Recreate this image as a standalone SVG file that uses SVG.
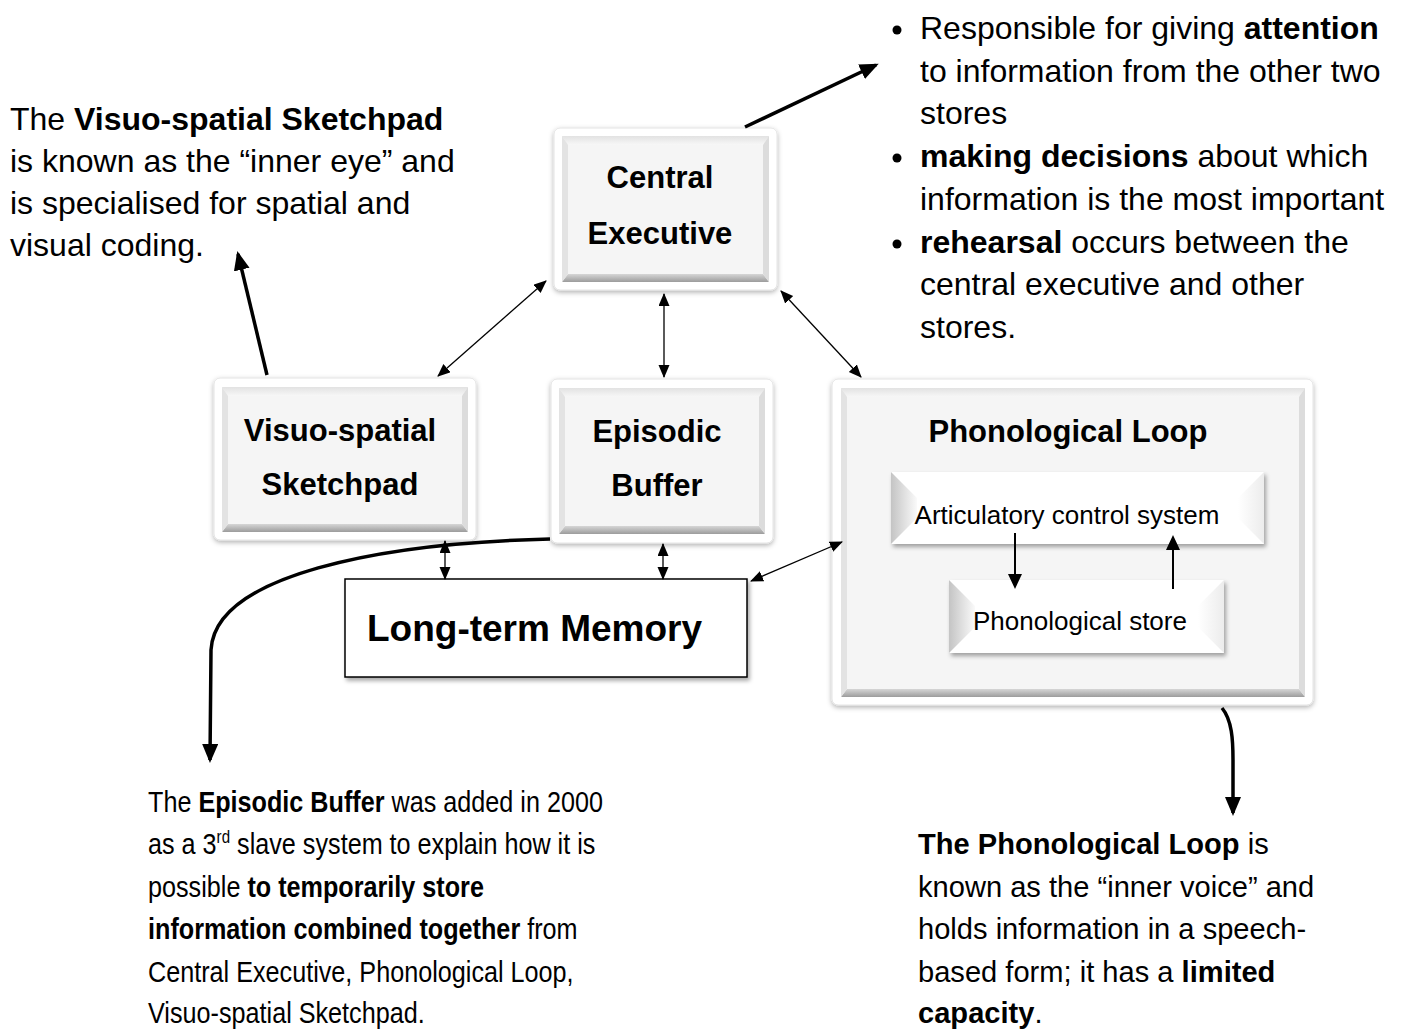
<svg xmlns="http://www.w3.org/2000/svg" width="1402" height="1032" viewBox="0 0 1402 1032">
<defs>
<style>
text{font-family:"Liberation Sans",Arial,sans-serif;fill:#000}
.lbl{font-size:31px;font-weight:bold;text-anchor:middle}
.note{font-size:32px}
.note2{font-size:30px}
.b{font-weight:bold}
.frame{fill:#fff;stroke:#e4e4e4;stroke-width:1}
.face{fill:#f5f5f5}
.btop{fill:url(#gTop)}
.bbot{fill:url(#gBot)}
.bl{fill:#e3e3e3}
.br{fill:#dcdcdc}
.thin{fill:none;stroke:#000;stroke-width:1.3}
.mid{fill:none;stroke:#000;stroke-width:2}
.thick{fill:none;stroke:#000;stroke-width:3.5}
.sub{font-size:26px;text-anchor:middle}
</style>
<linearGradient id="gTop" x1="0" y1="0" x2="0" y2="1"><stop offset="0" stop-color="#e2e2e2"/><stop offset="1" stop-color="#f7f7f7"/></linearGradient>
<linearGradient id="gBot" x1="0" y1="0" x2="0" y2="1"><stop offset="0" stop-color="#d6d6d6"/><stop offset="1" stop-color="#9c9c9c"/></linearGradient>
<linearGradient id="gLeft" x1="0" y1="0" x2="1" y2="0"><stop offset="0" stop-color="#c4c4c4"/><stop offset="1" stop-color="#fafafa"/></linearGradient>
<linearGradient id="gRight" x1="0" y1="0" x2="1" y2="0"><stop offset="0" stop-color="#ffffff"/><stop offset="1" stop-color="#ececec"/></linearGradient>
<filter id="sh" x="-10%" y="-10%" width="125%" height="130%"><feDropShadow dx="0" dy="2" stdDeviation="2.5" flood-color="#000" flood-opacity="0.3"/></filter>
<filter id="sh2" x="-10%" y="-10%" width="125%" height="140%"><feDropShadow dx="2" dy="3" stdDeviation="2" flood-color="#000" flood-opacity="0.35"/></filter>
<marker id="ah" markerUnits="userSpaceOnUse" markerWidth="14" markerHeight="12" refX="12" refY="5.5" orient="auto-start-reverse"><path d="M0,0 L13,5.5 L0,11 z" fill="#000"/></marker>
<marker id="ahm" markerUnits="userSpaceOnUse" markerWidth="16" markerHeight="16" refX="13" refY="7" orient="auto-start-reverse"><path d="M0,0 L15,7 L0,14 z" fill="#000"/></marker>
<marker id="ahb" markerUnits="userSpaceOnUse" markerWidth="20" markerHeight="20" refX="16" refY="8" orient="auto"><path d="M0,0 L19,8 L0,16 z" fill="#000"/></marker>
</defs>
<rect width="1402" height="1032" fill="#fff"/>

<g id="central-executive">
<rect class="frame" x="554" y="128" width="223" height="162" rx="6" filter="url(#sh)"/>
<rect class="face" x="562" y="136" width="207" height="146"/>
<polygon class="btop" points="562,136 769,136 763,145 568,145"/>
<polygon class="bbot" points="562,282 769,282 763,274 568,274"/>
<polygon class="bl" points="562,136 568,145 568,274 562,282"/>
<polygon class="br" points="769,136 763,145 763,274 769,282"/>
<text class="lbl" x="660" y="188">Central</text>
<text class="lbl" x="660" y="244">Executive</text>
</g>

<g id="visuo-spatial-sketchpad">
<rect class="frame" x="214" y="378" width="262" height="162" rx="6" filter="url(#sh)"/>
<rect class="face" x="222" y="387" width="246" height="145"/>
<polygon class="btop" points="222,387 468,387 462,396 228,396"/>
<polygon class="bbot" points="222,532 468,532 462,524 228,524"/>
<polygon class="bl" points="222,387 228,396 228,524 222,532"/>
<polygon class="br" points="468,387 462,396 462,524 468,532"/>
<text class="lbl" x="340" y="441">Visuo-spatial</text>
<text class="lbl" x="340" y="495">Sketchpad</text>
</g>

<g id="episodic-buffer">
<rect class="frame" x="551" y="379" width="222" height="164" rx="6" filter="url(#sh)"/>
<rect class="face" x="559" y="388" width="206" height="146"/>
<polygon class="btop" points="559,388 765,388 759,397 565,397"/>
<polygon class="bbot" points="559,534 765,534 759,526 565,526"/>
<polygon class="bl" points="559,388 565,397 565,526 559,534"/>
<polygon class="br" points="765,388 759,397 759,526 765,534"/>
<text class="lbl" x="657" y="442">Episodic</text>
<text class="lbl" x="657" y="496">Buffer</text>
</g>

<g id="phonological-loop">
<rect class="frame" x="832" y="379" width="481" height="326" rx="6" filter="url(#sh)"/>
<rect class="face" x="841" y="388" width="464" height="309"/>
<polygon class="btop" points="841,388 1305,388 1299,397 847,397"/>
<polygon class="bbot" points="841,697 1305,697 1299,689 847,689"/>
<polygon class="bl" points="841,388 847,397 847,689 841,697"/>
<polygon class="br" points="1305,388 1299,397 1299,689 1305,697"/>
<text class="lbl" x="1068" y="442">Phonological Loop</text>
</g>

<g id="articulatory-control-system">
<rect x="891" y="472" width="373" height="72" fill="#fff" filter="url(#sh2)"/>
<polygon points="891,472 917,498 917,518 891,544" fill="url(#gLeft)"/>
<polygon points="1264,472 1238,498 1238,518 1264,544" fill="url(#gRight)"/>
<text class="sub" x="1067" y="524">Articulatory control system</text>
</g>

<g id="phonological-store">
<rect x="949" y="580" width="275" height="73" fill="#fff" filter="url(#sh2)"/>
<polygon points="949,580 975,606 975,627 949,653" fill="url(#gLeft)"/>
<polygon points="1224,580 1198,606 1198,627 1224,653" fill="url(#gRight)"/>
<text class="sub" x="1080" y="630">Phonological store</text>
</g>

<g id="long-term-memory">
<rect x="345" y="579" width="402" height="98" fill="#fff" stroke="#000" stroke-width="1.5" filter="url(#sh2)"/>
<text x="367" y="641" style="font-size:37px;font-weight:bold">Long-term Memory</text>
</g>

<g id="connectors">
<line class="thin" x1="546" y1="281" x2="438" y2="376" marker-start="url(#ah)" marker-end="url(#ah)"/>
<line class="thin" x1="664" y1="294" x2="664" y2="377" marker-start="url(#ah)" marker-end="url(#ah)"/>
<line class="thin" x1="781" y1="291" x2="861" y2="377" marker-start="url(#ah)" marker-end="url(#ah)"/>
<line class="thin" x1="445" y1="541" x2="445" y2="579" marker-start="url(#ah)" marker-end="url(#ah)"/>
<line class="thin" x1="663" y1="544" x2="663" y2="579" marker-start="url(#ah)" marker-end="url(#ah)"/>
<line class="thin" x1="751" y1="581" x2="842" y2="542" marker-start="url(#ah)" marker-end="url(#ah)"/>
<line class="mid" x1="1015" y1="533" x2="1015" y2="587" marker-end="url(#ahm)"/>
<line class="mid" x1="1173" y1="589" x2="1173" y2="537" marker-end="url(#ahm)"/>
<line class="thick" x1="745" y1="127" x2="876" y2="65" marker-end="url(#ahb)"/>
<line class="thick" x1="267" y1="375" x2="238" y2="254" marker-end="url(#ahb)"/>
<path class="thick" d="M550,539 C380,543 215,575 211,650 L210,760" marker-end="url(#ahb)"/>
<path class="thick" d="M1222,708 C1232,720 1233,740 1233,760 L1233,813" marker-end="url(#ahb)"/>
</g>

<g id="note-visuo">
<text class="note" x="10" y="130">The <tspan class="b">Visuo-spatial Sketchpad</tspan></text>
<text class="note" x="10" y="172">is known as the “inner eye” and</text>
<text class="note" x="10" y="214">is specialised for spatial and</text>
<text class="note" x="10" y="256">visual coding.</text>
</g>

<g id="note-central">
<circle cx="897" cy="30" r="4.5"/>
<circle cx="897" cy="158" r="4.5"/>
<circle cx="897" cy="244" r="4.5"/>
<text class="note" x="920" y="39">Responsible for giving <tspan class="b">attention</tspan></text>
<text class="note" x="920" y="82">to information from the other two</text>
<text class="note" x="920" y="124">stores</text>
<text class="note" x="920" y="167"><tspan class="b">making decisions</tspan> about which</text>
<text class="note" x="920" y="210">information is the most important</text>
<text class="note" x="920" y="253"><tspan class="b">rehearsal</tspan> occurs between the</text>
<text class="note" x="920" y="295">central executive and other</text>
<text class="note" x="920" y="338">stores.</text>
</g>

<g id="note-episodic" transform="translate(148 0) scale(0.84 1)">
<text class="note2" x="0" y="812">The <tspan class="b">Episodic Buffer</tspan> was added in 2000</text>
<text class="note2" x="0" y="854">as a 3<tspan font-size="18" dy="-11">rd</tspan><tspan dy="11"> slave system to explain how it is</tspan></text>
<text class="note2" x="0" y="897">possible <tspan class="b">to temporarily store</tspan></text>
<text class="note2" x="0" y="939"><tspan class="b">information combined together</tspan> from</text>
<text class="note2" x="0" y="982">Central Executive, Phonological Loop,</text>
<text class="note2" x="0" y="1023">Visuo-spatial Sketchpad.</text>
</g>

<g id="note-phonological" transform="translate(918 0) scale(0.97 1)">
<text class="note2" x="0" y="854"><tspan class="b">The Phonological Loop</tspan> is</text>
<text class="note2" x="0" y="897">known as the “inner voice” and</text>
<text class="note2" x="0" y="939">holds information in a speech-</text>
<text class="note2" x="0" y="982">based form; it has a <tspan class="b">limited</tspan></text>
<text class="note2" x="0" y="1023"><tspan class="b">capacity</tspan>.</text>
</g>
</svg>
